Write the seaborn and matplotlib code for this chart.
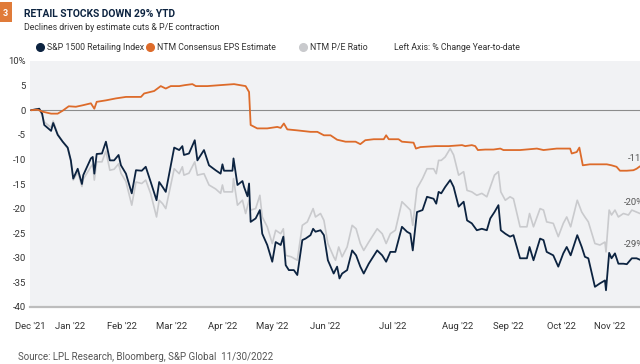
import matplotlib
matplotlib.use("Agg")
import matplotlib.pyplot as plt
import matplotlib.patches as mpatches
from matplotlib.lines import Line2D
from matplotlib import font_manager
import seaborn as sns
import pandas as pd

# trading-day index (0 = Dec 31 2021, 231 = Nov 30 2022) and % change year-to-date
sp_days = [0, 3.1, 4.2, 5.0, 7.6, 8.4, 10.1, 12.0, 13.9, 15.1, 16.0, 17.7, 19.3, 19.8, 22.7, 23.4, 24.0, 24.9,
           26.9, 28.4, 29.9, 31.5, 33.2, 34.1, 36.0, 38.2, 39.8, 42.0, 43.5, 45.4, 47.6, 48.6, 49.9, 51.1,
           54.3, 56.2, 57.4, 58.0, 59.9, 62.1, 63.1, 65.6, 67.5, 70.0, 71.9, 72.6, 73.2, 76.4, 76.8, 78.3,
           80.2, 80.8, 82.1, 82.7, 83.3, 85.2, 86.8, 87.7, 89.6, 91.5, 92.8, 94.7, 95.7, 96.6, 97.8, 99.7,
           101.0, 102.9, 104.1, 106.0, 107.0, 107.9, 109.8, 111.1, 112.6, 114.8, 116.1, 117.0, 118.0, 119.9,
           121.8, 123.3, 124.9, 126.2, 128.1, 131.3, 133.2, 134.7, 136.3, 138.2, 140.7, 142.6, 143.9, 144.8,
           146.4, 148.5, 150.2, 152.7, 153.7, 154.6, 155.6, 157.1, 159.0, 160.3, 162.2, 164.1, 165.4, 167.2,
           169.1, 171.0, 172.9, 174.2, 175.8, 177.3, 178.2, 179.9, 181.7, 183.0, 185.5, 188.1, 189.1, 190.6,
           193.1, 194.4, 195.6, 198.1, 200.0, 201.9, 203.2, 204.7, 207.2, 208.9, 210.1, 211.4, 213.9, 215.8,
           217.7, 218.1, 219.3, 220.2, 221.5, 222.8, 224.7, 226.0, 227.9, 229.7, 231.0]
sp_vals = [0, 0.3, -0.7, -3.0, -4.2, -2.6, -5.0, -6.4, -7.6, -10.2, -13.9, -11.9, -15.0, -13.2, -9.8, -9.5, -12.9, -8.9,
           -8.8, -6.4, -10.2, -10.2, -9.1, -11.2, -12.9, -16.9, -12.2, -12.3, -11.5, -14.6, -18.3, -14.6, -15.6, -16.6,
           -7.6, -8.1, -7.3, -9.1, -8.8, -6.1, -10.2, -8.1, -11.2, -12.2, -12.9, -11.0, -12.3, -12.3, -9.8, -15.2,
           -14.4, -15.6, -17.5, -14.9, -22.7, -22.0, -20.3, -25.1, -27.4, -30.8, -26.8, -27.4, -25.7, -31.5, -32.5, -32.5,
           -33.5, -26.4, -26.1, -25.4, -24.1, -24.7, -24.4, -25.4, -30.5, -33.2, -31.8, -34.2, -33.2, -32.5,
           -28.5, -29.5, -31.8, -33.2, -31.2, -28.5, -29.5, -30.8, -28.8, -28.8, -23.7, -24.7, -25.1, -28.5,
           -20.7, -20.3, -17.6, -18.0, -19.0, -16.6, -16.9, -15.6, -14.2, -15.6, -19.6, -18.6, -22.4, -23.0,
           -24.4, -24.1, -24.4, -22.0, -20.7, -19.3, -24.4, -25.1, -25.7, -25.4, -30.1, -30.1, -27.8, -30.5,
           -26.1, -26.4, -28.8, -29.5, -31.8, -29.1, -27.8, -29.5, -25.4, -27.8, -29.8, -30.1, -35.9, -35.2,
           -34.6, -36.6, -29.0, -30.1, -29.1, -31.2, -31.2, -31.3, -30.1, -30.1, -30.4]

eps_days = [0, 2.5, 4.4, 7.6, 10.1, 12.0, 14.3, 17.0, 19.6, 22.7, 24.0, 24.9, 28.4, 32.2, 36.0, 41.7, 42.9, 46.7,
            49.2, 51.1, 53.0, 56.2, 58.4, 61.2, 62.5, 66.9, 71.9, 77.0, 81.4, 82.7, 83.3, 85.8, 89.6, 93.4, 94.7,
            95.9, 97.2, 101.0, 106.0, 108.6, 111.1, 113.6, 116.1, 119.3, 123.1, 124.9, 126.8, 130.0, 133.8, 134.7,
            135.7, 139.4, 140.7, 145.1, 146.0, 147.7, 153.4, 158.4, 163.5, 164.7, 167.2, 168.5, 169.5, 172.3,
            175.4, 178.0, 179.2, 185.5, 191.9, 194.4, 199.4, 204.5, 205.1, 207.0, 208.0, 209.3, 212.0, 218.4,
            220.2, 222.1, 223.4, 226.0, 228.5, 229.7, 231.0]
eps_vals = [0, 0.1, -0.3, -0.7, -0.7, -0.1, 0.8, 0.7, 1.0, 1.4, 0.3, 1.7, 2.0, 2.4, 2.7, 2.7, 3.4, 3.9,
            4.9, 4.4, 4.9, 4.9, 5.1, 5.3, 4.9, 4.9, 5.1, 5.3, 4.9, 3.7, -3.0, -3.7, -3.7, -3.4, -3.6,
            -2.7, -3.9, -4.1, -4.4, -4.4, -5.1, -5.1, -6.0, -6.4, -6.4, -6.9, -6.1, -5.9, -5.9, -5.1,
            -5.9, -5.9, -6.4, -6.6, -7.8, -7.5, -7.3, -7.3, -7.1, -7.3, -7.1, -7.3, -8.1, -8.0,
            -8.0, -7.8, -8.1, -8.1, -7.8, -8.1, -7.8, -7.8, -8.8, -8.5, -7.6, -11.2, -11.0, -11.0,
            -11.2, -11.5, -12.3, -12.3, -12.2, -11.9, -11.4]

pe_days = [0, 3.1, 4.2, 5.0, 7.6, 8.4, 10.1, 12.0, 13.9, 15.1, 16.0, 17.7, 19.3, 19.8, 22.7, 23.4, 24.0, 24.9,
           26.9, 28.4, 29.9, 31.5, 33.2, 34.1, 36.0, 38.2, 39.8, 42.0, 43.5, 45.4, 47.6, 48.6, 49.9, 51.1,
           54.3, 56.2, 57.4, 58.0, 59.9, 62.1, 63.1, 65.6, 67.5, 70.0, 71.9, 72.6, 73.2, 76.4, 76.8, 78.3,
           80.2, 81.4, 82.7, 83.3, 85.2, 86.8, 87.7, 89.6, 91.5, 92.8, 94.7, 95.7, 96.6, 98.7, 101.0, 102.9,
           104.8, 107.0, 107.9, 109.8, 111.1, 112.6, 114.8, 115.5, 116.7, 118.0, 119.9, 121.8, 123.3, 124.9,
           126.2, 128.1, 131.3, 133.2, 134.7, 136.3, 138.2, 140.7, 142.6, 143.9, 144.8, 146.4, 148.5, 150.2,
           152.7, 153.7, 154.6, 155.6, 157.1, 159.0, 160.3, 162.2, 164.1, 165.4, 167.2, 169.1, 171.0, 172.9,
           174.2, 175.8, 177.3, 178.2, 179.9, 181.7, 183.0, 185.5, 188.1, 189.1, 190.6, 193.1, 194.4, 195.6,
           198.1, 200.0, 201.9, 203.2, 204.7, 207.2, 208.9, 210.1, 211.4, 213.9, 215.8, 217.7, 218.1, 219.3,
           220.2, 221.5, 222.8, 224.7, 226.6, 227.9, 229.7, 231.0]
pe_vals = [0, 0.3, -1.0, -2.4, -3.5, -2.2, -4.8, -6.4, -7.8, -10.5, -14.2, -12.6, -15.5, -14.0, -11.5, -11.0, -14.2, -10.5,
           -10.5, -8.3, -12.2, -12.0, -10.9, -12.8, -14.5, -19.3, -14.6, -14.9, -14.2, -17.0, -21.7, -18.3, -19.0, -20.0,
           -11.9, -12.9, -11.5, -13.2, -12.8, -10.5, -13.2, -12.9, -15.2, -16.0, -16.9, -15.2, -16.6, -16.6, -13.9, -19.3,
           -18.3, -21.0, -18.3, -20.3, -20.0, -17.3, -21.7, -23.7, -27.1, -24.4, -25.1, -24.1, -29.5, -29.8, -30.5, -23.4,
           -22.7, -20.0, -21.7, -21.0, -22.4, -27.1, -29.8, -30.5, -27.8, -29.8, -27.8, -23.4, -24.1, -27.1,
           -28.5, -26.8, -24.1, -25.1, -27.1, -25.1, -24.4, -18.6, -19.6, -20.3, -23.4, -15.9, -13.9, -11.9,
           -11.9, -12.9, -10.2, -10.2, -9.5, -7.8, -9.1, -13.2, -12.5, -16.3, -16.6, -17.3, -16.9, -17.6,
           -15.6, -13.2, -12.5, -16.6, -18.3, -17.6, -18.0, -23.7, -23.7, -21.0, -23.7, -20.0, -20.3, -22.7,
           -23.0, -25.7, -23.0, -21.7, -23.7, -18.3, -20.7, -21.7, -22.7, -27.1, -27.4, -26.8, -28.8, -20.3,
           -21.3, -20.3, -21.7, -21.0, -21.3, -20.3, -20.7, -21.0]

tick_days = [-0.4, 14.8, 34.5, 53.4, 72.7, 91.6, 111.7, 137.1, 161.7, 181.0, 201.1, 219.6]
tick_labels = ["Dec '21", "Jan '22", "Feb '22", "Mar '22", "Apr '22", "May '22", "Jun '22",
               "Jul '22", "Aug '22", "Sep '22", "Oct '22", "Nov '22"]
y_ticks = [10, 5, 0, -5, -10, -15, -20, -25, -30, -35, -40]
end_labels = ["-11%", "-20%", "-29%"]
end_pos = [(226.4, -9.8), (224.9, -18.7), (224.9, -27.2)]

NAVY = "#0c2340"
ORANGE = "#dd6b2a"
GREY = "#c9cacd"
TXT = "#333333"

sns.set_style("white")
installed = {f.name for f in font_manager.fontManager.ttflist}
fam = "Liberation Sans Narrow" if "Liberation Sans Narrow" in installed else "Roboto"
plt.rcParams["font.family"] = [fam, "DejaVu Sans"]

fig = plt.figure(figsize=(6.4, 3.64), dpi=100)
ax = fig.add_axes([30 / 640, 57 / 364, 610 / 640, 246 / 364])
ax.set_facecolor("#f1f2f4")

sp = pd.DataFrame({"day": sp_days, "val": sp_vals})
eps = pd.DataFrame({"day": eps_days, "val": eps_vals})
pe = pd.DataFrame({"day": pe_days, "val": pe_vals})

ax.axhline(0, color="#8c8c8c", lw=0.8, zorder=1)
sns.lineplot(data=pe, x="day", y="val", ax=ax, color=GREY, lw=1.2, estimator=None, sort=False)
sns.lineplot(data=sp, x="day", y="val", ax=ax, color=NAVY, lw=1.3, estimator=None, sort=False)
sns.lineplot(data=eps, x="day", y="val", ax=ax, color=ORANGE, lw=1.3, estimator=None, sort=False)

ax.set_xlim(0, 231)
ax.set_ylim(-40, 10)
ax.set_xticks(tick_days)
ax.set_xticklabels(tick_labels)
ax.set_yticks(y_ticks)
ax.set_yticklabels([f"{v}%" if v == 10 else str(v) for v in y_ticks])
ax.tick_params(axis="both", length=0, labelsize=6.8, colors=TXT)
ax.tick_params(axis="x", pad=11)
ax.tick_params(axis="y", pad=3)
ax.set_xlabel("")
ax.set_ylabel("")
for s in ["top", "right", "left"]:
    ax.spines[s].set_visible(False)
ax.spines["bottom"].set_color("#bdbdbd")
ax.spines["bottom"].set_linewidth(1.6)

# end-of-line labels run past the right edge, as in the source image
for lab, (d, v) in zip(end_labels, end_pos):
    ax.text(d, v, lab, fontsize=6.8, color="#555555", ha="left", va="center", clip_on=False)

# header
fig.add_artist(mpatches.Rectangle((0, 1 - 22 / 364), 12 / 640, 20 / 364, transform=fig.transFigure,
                                  color="#e07b39", lw=0))
fig.text(5 / 640, 1 - 13 / 364, "3", color="white", fontsize=6.5, fontweight="bold", ha="center", va="center")
fig.text(24 / 640, 1 - 14 / 364, "RETAIL STOCKS DOWN 29% YTD", color=NAVY, fontsize=7.4,
         fontweight="bold", va="center")
fig.text(24 / 640, 1 - 27 / 364, "Declines driven by estimate cuts & P/E contraction", color=TXT,
         fontsize=6.3, va="center")

# legend row
leg = [(40, NAVY, "S&P 1500 Retailing Index"), (150, ORANGE, "NTM Consensus EPS Estimate"),
       (303, GREY, "NTM P/E Ratio")]
for xp, c, lab in leg:
    fig.add_artist(Line2D([xp / 640], [1 - 47 / 364], marker="o", markersize=5.5, color=c, lw=0,
                          transform=fig.transFigure))
    fig.text((xp + 7) / 640, 1 - 47 / 364, lab, color=TXT, fontsize=6.3, va="center")
fig.text(394 / 640, 1 - 47 / 364, "Left Axis: % Change Year-to-date", color=TXT, fontsize=6.3, va="center")

fig.text(18 / 640, 1 - 357 / 364, "Source: LPL Research, Bloomberg, S&P Global  11/30/2022",
         color="#555555", fontsize=7.0, va="center")

fig.savefig("out.png", dpi=100)
